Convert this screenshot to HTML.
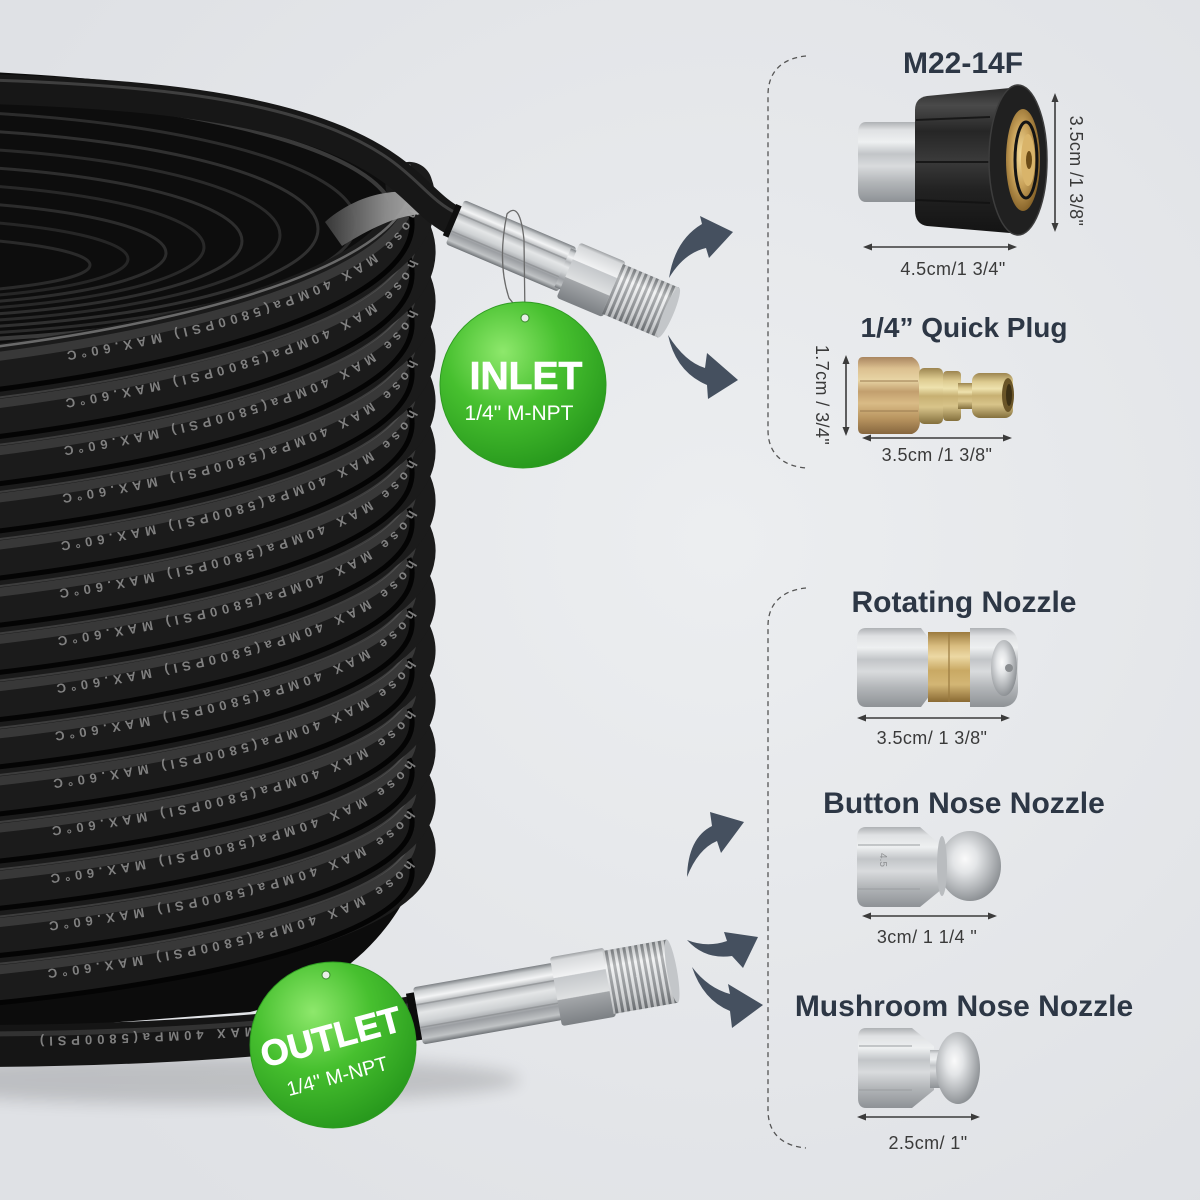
<!DOCTYPE html>
<html><head><meta charset="utf-8">
<style>
html,body{margin:0;padding:0;background:#e4e6e9;}
svg{display:block;}
.ttl{font-family:"Liberation Sans",Arial,sans-serif;font-weight:bold;font-size:30px;fill:#2d3745;}
.dim{font-family:"Liberation Sans",Arial,sans-serif;font-size:18px;fill:#3a3a3a;letter-spacing:0.4px;}
.ht{font-family:"Liberation Sans",Arial,sans-serif;font-weight:bold;font-size:13px;letter-spacing:4.9px;fill:#9a9a9a;opacity:.8;}
use{fill:none;}
.bb{stroke:#1b1b1b;stroke-width:47;stroke-linecap:round;}
.bs{stroke:#4c4c4c;stroke-width:9;opacity:.6;}
.bh{stroke:#707070;stroke-width:2;opacity:.4;}
.bg{stroke:#040404;stroke-width:5;}
</style></head>
<body>
<svg width="1200" height="1200" viewBox="0 0 1200 1200" xmlns="http://www.w3.org/2000/svg">
<defs>
 <radialGradient id="bgR" cx="0.6" cy="0.45" r="0.7">
  <stop offset="0" stop-color="#eceef0"/><stop offset="1" stop-color="#dfe1e5"/>
 </radialGradient>
 <radialGradient id="greenR" cx="0.38" cy="0.3" r="0.78">
  <stop offset="0" stop-color="#8ee86c"/><stop offset="0.45" stop-color="#47c02f"/><stop offset="1" stop-color="#23931a"/>
 </radialGradient>
 <linearGradient id="sleeveG" x1="0" y1="0" x2="0" y2="1">
  <stop offset="0" stop-color="#7d8185"/><stop offset="0.08" stop-color="#c9ccce"/><stop offset="0.2" stop-color="#f3f4f5"/>
  <stop offset="0.32" stop-color="#b2b5b8"/><stop offset="0.45" stop-color="#e4e6e7"/><stop offset="0.6" stop-color="#cfd2d4"/>
  <stop offset="0.75" stop-color="#9b9ea2"/><stop offset="0.9" stop-color="#c0c3c5"/><stop offset="1" stop-color="#6f7377"/>
 </linearGradient>
 <linearGradient id="hexG" x1="0" y1="0" x2="0" y2="1">
  <stop offset="0" stop-color="#9ea1a4"/><stop offset="0.06" stop-color="#d7d9db"/><stop offset="0.3" stop-color="#f1f2f3"/>
  <stop offset="0.31" stop-color="#c5c8cb"/><stop offset="0.62" stop-color="#dfe1e2"/><stop offset="0.63" stop-color="#a3a6a9"/>
  <stop offset="1" stop-color="#7c8084"/>
 </linearGradient>
 <linearGradient id="thrG" x1="0" y1="0" x2="0" y2="1">
  <stop offset="0" stop-color="#8f9396"/><stop offset="0.25" stop-color="#e8eaeb"/><stop offset="0.5" stop-color="#c9cccf"/>
  <stop offset="0.75" stop-color="#aeb1b4"/><stop offset="1" stop-color="#7a7e82"/>
 </linearGradient>
 <pattern id="thr" width="6" height="10" patternUnits="userSpaceOnUse">
  <rect x="0" y="0" width="3" height="10" fill="#ffffff" opacity="0.45"/>
  <rect x="3" y="0" width="3" height="10" fill="#4a4d50" opacity="0.35"/>
 </pattern>
 <linearGradient id="steelV" x1="0" y1="0" x2="0" y2="1">
  <stop offset="0" stop-color="#aeb1b4"/><stop offset="0.1" stop-color="#dfe1e3"/><stop offset="0.25" stop-color="#eef0f1"/>
  <stop offset="0.4" stop-color="#c2c5c8"/><stop offset="0.55" stop-color="#d9dbdd"/><stop offset="0.75" stop-color="#b3b6b9"/>
  <stop offset="1" stop-color="#8e9296"/>
 </linearGradient>
 <linearGradient id="brassV" x1="0" y1="0" x2="0" y2="1">
  <stop offset="0" stop-color="#a98560"/><stop offset="0.15" stop-color="#dcc090"/><stop offset="0.3" stop-color="#e8d5a5"/>
  <stop offset="0.45" stop-color="#c29f6e"/><stop offset="0.6" stop-color="#d9bb86"/><stop offset="0.8" stop-color="#b8945f"/>
  <stop offset="1" stop-color="#86663f"/>
 </linearGradient>
 <linearGradient id="zincV" x1="0" y1="0" x2="0" y2="1">
  <stop offset="0" stop-color="#9c8550"/><stop offset="0.2" stop-color="#ddcb90"/><stop offset="0.35" stop-color="#eee2ae"/>
  <stop offset="0.5" stop-color="#c7b072"/><stop offset="0.7" stop-color="#d8c48a"/><stop offset="1" stop-color="#84703d"/>
 </linearGradient>
 <linearGradient id="goldV" x1="0" y1="0" x2="0" y2="1">
  <stop offset="0" stop-color="#9b7a3e"/><stop offset="0.2" stop-color="#d9bd80"/><stop offset="0.35" stop-color="#ecd8a4"/>
  <stop offset="0.55" stop-color="#c9a964"/><stop offset="0.75" stop-color="#d3b675"/><stop offset="1" stop-color="#8a6a33"/>
 </linearGradient>
 <linearGradient id="blackV" x1="0" y1="0" x2="0" y2="1">
  <stop offset="0" stop-color="#2b2b2b"/><stop offset="0.12" stop-color="#4a4a4a"/><stop offset="0.3" stop-color="#262626"/>
  <stop offset="0.5" stop-color="#3a3a3a"/><stop offset="0.7" stop-color="#222222"/><stop offset="1" stop-color="#141414"/>
 </linearGradient>
 <radialGradient id="brassR" cx="0.45" cy="0.45" r="0.6">
  <stop offset="0" stop-color="#f3dc9c"/><stop offset="0.5" stop-color="#c9a25a"/><stop offset="1" stop-color="#7d5a22"/>
 </radialGradient>
 <radialGradient id="ballR" cx="0.42" cy="0.4" r="0.65">
  <stop offset="0" stop-color="#fafafa"/><stop offset="0.3" stop-color="#e3e5e7"/><stop offset="0.65" stop-color="#b5b8bb"/><stop offset="1" stop-color="#85898d"/>
 </radialGradient>
 <linearGradient id="rimL" x1="0" y1="0" x2="1" y2="0">
  <stop offset="0" stop-color="#3a3a3a"/><stop offset="0.55" stop-color="#8f8f8f"/><stop offset="1" stop-color="#b8b8b8"/>
 </linearGradient>
 <clipPath id="op"><ellipse cx="-120" cy="211" rx="552" ry="137"/></clipPath>
 <filter id="blur" x="-20%" y="-50%" width="140%" height="200%"><feGaussianBlur stdDeviation="8"/></filter>

 <path id="b0" d="M-10 368.5A812 190 0 0 0 409 185.4"/>
 <path id="b1" d="M-10 415.7A812 186.9 0 0 0 409 235.5"/>
 <path id="b2" d="M-10 462.9A812 183.8 0 0 0 409 285.7"/>
 <path id="b3" d="M-10 510.1A812 180.8 0 0 0 409 335.8"/>
 <path id="b4" d="M-10 557.2A812 177.7 0 0 0 409 385.9"/>
 <path id="b5" d="M-10 604.3A812 174.6 0 0 0 409 436.0"/>
 <path id="b6" d="M-10 651.5A812 171.5 0 0 0 409 486.2"/>
 <path id="b7" d="M-10 698.7A812 168.5 0 0 0 409 536.2"/>
 <path id="b8" d="M-10 745.9A812 165.4 0 0 0 409 586.4"/>
 <path id="b9" d="M-10 793.0A812 162.3 0 0 0 409 636.6"/>
 <path id="b10" d="M-10 840.1A812 159.2 0 0 0 409 686.6"/>
 <path id="b11" d="M-10 887.3A812 156.2 0 0 0 409 736.7"/>
 <path id="b12" d="M-10 934.5A812 153.1 0 0 0 409 786.9"/>
 <path id="b13" d="M-10 981.7A812 150.0 0 0 0 409 837.0"/>

 <path id="t0" d="M409 185.4A812 190 0 0 1 -10 368.5"/>
 <path id="t1" d="M409 235.5A812 186.9 0 0 1 -10 415.7"/>
 <path id="t2" d="M409 285.7A812 183.8 0 0 1 -10 462.9"/>
 <path id="t3" d="M409 335.8A812 180.8 0 0 1 -10 510.1"/>
 <path id="t4" d="M409 385.9A812 177.7 0 0 1 -10 557.2"/>
 <path id="t5" d="M409 436.0A812 174.6 0 0 1 -10 604.3"/>
 <path id="t6" d="M409 486.2A812 171.5 0 0 1 -10 651.5"/>
 <path id="t7" d="M409 536.2A812 168.5 0 0 1 -10 698.7"/>
 <path id="t8" d="M409 586.4A812 165.4 0 0 1 -10 745.9"/>
 <path id="t9" d="M409 636.6A812 162.3 0 0 1 -10 793.0"/>
 <path id="t10" d="M409 686.6A812 159.2 0 0 1 -10 840.1"/>
 <path id="t11" d="M409 736.7A812 156.2 0 0 1 -10 887.3"/>
 <path id="t12" d="M409 786.9A812 153.1 0 0 1 -10 934.5"/>
 <path id="t13" d="M409 837.0A812 150.0 0 0 1 -10 981.7"/>
 <path id="tb" d="M330 1030 C 220 1038 110 1044 -10 1046"/>
</defs>

<!-- background -->
<rect width="1200" height="1200" fill="url(#bgR)"/>
<ellipse cx="200" cy="1080" rx="320" ry="24" fill="#000" opacity="0.15" filter="url(#blur)"/>

<!-- coil base -->
<path d="M-10 72 C150 80 280 100 340 130 L420 185 L421 860 C400 930 340 990 250 1012 L-10 1032 Z" fill="#0c0c0c"/>

<!-- interior -->
<ellipse cx="-120" cy="211" rx="552" ry="137" fill="#0d0d0d"/>
<g clip-path="url(#op)" fill="none">
 <ellipse cx="-120" cy="217" rx="514" ry="125" stroke="#3a3a3a" stroke-width="4"/>
 <ellipse cx="-120" cy="223" rx="476" ry="113" stroke="#2c2c2c" stroke-width="3"/>
 <ellipse cx="-120" cy="229" rx="438" ry="101" stroke="#303030" stroke-width="3"/>
 <ellipse cx="-120" cy="235" rx="400" ry="89" stroke="#2a2a2a" stroke-width="3"/>
 <ellipse cx="-120" cy="241" rx="362" ry="77" stroke="#2e2e2e" stroke-width="3"/>
 <ellipse cx="-120" cy="247" rx="324" ry="65" stroke="#282828" stroke-width="3"/>
 <ellipse cx="-120" cy="253" rx="286" ry="53" stroke="#2c2c2c" stroke-width="3"/>
 <ellipse cx="-120" cy="259" rx="248" ry="41" stroke="#262626" stroke-width="3"/>
 <ellipse cx="-120" cy="265" rx="210" ry="29" stroke="#2a2a2a" stroke-width="3"/>
</g>

<!-- bands, bottom first -->
<use href="#b13" class="bb"/><use href="#b13" class="bs" transform="translate(0,-11)"/><use href="#b13" class="bh" transform="translate(0,-17)"/><use href="#b13" class="bg" transform="translate(0,22)"/>
<text class="ht" transform="translate(0,-6)"><textPath href="#t13" startOffset="30">hose MAX 40MPa(5800PSI) MAX.60°C</textPath></text>
<use href="#b12" class="bb"/><use href="#b12" class="bs" transform="translate(0,-11)"/><use href="#b12" class="bh" transform="translate(0,-17)"/><use href="#b12" class="bg" transform="translate(0,22)"/>
<text class="ht" transform="translate(0,-6)"><textPath href="#t12" startOffset="30">hose MAX 40MPa(5800PSI) MAX.60°C</textPath></text>
<use href="#b11" class="bb"/><use href="#b11" class="bs" transform="translate(0,-11)"/><use href="#b11" class="bh" transform="translate(0,-17)"/><use href="#b11" class="bg" transform="translate(0,22)"/>
<text class="ht" transform="translate(0,-6)"><textPath href="#t11" startOffset="30">hose MAX 40MPa(5800PSI) MAX.60°C</textPath></text>
<use href="#b10" class="bb"/><use href="#b10" class="bs" transform="translate(0,-11)"/><use href="#b10" class="bh" transform="translate(0,-17)"/><use href="#b10" class="bg" transform="translate(0,22)"/>
<text class="ht" transform="translate(0,-6)"><textPath href="#t10" startOffset="30">hose MAX 40MPa(5800PSI) MAX.60°C</textPath></text>
<use href="#b9" class="bb"/><use href="#b9" class="bs" transform="translate(0,-11)"/><use href="#b9" class="bh" transform="translate(0,-17)"/><use href="#b9" class="bg" transform="translate(0,22)"/>
<text class="ht" transform="translate(0,-6)"><textPath href="#t9" startOffset="30">hose MAX 40MPa(5800PSI) MAX.60°C</textPath></text>
<use href="#b8" class="bb"/><use href="#b8" class="bs" transform="translate(0,-11)"/><use href="#b8" class="bh" transform="translate(0,-17)"/><use href="#b8" class="bg" transform="translate(0,22)"/>
<text class="ht" transform="translate(0,-6)"><textPath href="#t8" startOffset="30">hose MAX 40MPa(5800PSI) MAX.60°C</textPath></text>
<use href="#b7" class="bb"/><use href="#b7" class="bs" transform="translate(0,-11)"/><use href="#b7" class="bh" transform="translate(0,-17)"/><use href="#b7" class="bg" transform="translate(0,22)"/>
<text class="ht" transform="translate(0,-6)"><textPath href="#t7" startOffset="30">hose MAX 40MPa(5800PSI) MAX.60°C</textPath></text>
<use href="#b6" class="bb"/><use href="#b6" class="bs" transform="translate(0,-11)"/><use href="#b6" class="bh" transform="translate(0,-17)"/><use href="#b6" class="bg" transform="translate(0,22)"/>
<text class="ht" transform="translate(0,-6)"><textPath href="#t6" startOffset="30">hose MAX 40MPa(5800PSI) MAX.60°C</textPath></text>
<use href="#b5" class="bb"/><use href="#b5" class="bs" transform="translate(0,-11)"/><use href="#b5" class="bh" transform="translate(0,-17)"/><use href="#b5" class="bg" transform="translate(0,22)"/>
<text class="ht" transform="translate(0,-6)"><textPath href="#t5" startOffset="30">hose MAX 40MPa(5800PSI) MAX.60°C</textPath></text>
<use href="#b4" class="bb"/><use href="#b4" class="bs" transform="translate(0,-11)"/><use href="#b4" class="bh" transform="translate(0,-17)"/><use href="#b4" class="bg" transform="translate(0,22)"/>
<text class="ht" transform="translate(0,-6)"><textPath href="#t4" startOffset="30">hose MAX 40MPa(5800PSI) MAX.60°C</textPath></text>
<use href="#b3" class="bb"/><use href="#b3" class="bs" transform="translate(0,-11)"/><use href="#b3" class="bh" transform="translate(0,-17)"/><use href="#b3" class="bg" transform="translate(0,22)"/>
<text class="ht" transform="translate(0,-6)"><textPath href="#t3" startOffset="30">hose MAX 40MPa(5800PSI) MAX.60°C</textPath></text>
<use href="#b2" class="bb"/><use href="#b2" class="bs" transform="translate(0,-11)"/><use href="#b2" class="bh" transform="translate(0,-17)"/><use href="#b2" class="bg" transform="translate(0,22)"/>
<text class="ht" transform="translate(0,-6)"><textPath href="#t2" startOffset="30">hose MAX 40MPa(5800PSI) MAX.60°C</textPath></text>
<use href="#b1" class="bb"/><use href="#b1" class="bs" transform="translate(0,-11)"/><use href="#b1" class="bh" transform="translate(0,-17)"/><use href="#b1" class="bg" transform="translate(0,22)"/>
<text class="ht" transform="translate(0,-6)"><textPath href="#t1" startOffset="30">hose MAX 40MPa(5800PSI) MAX.60°C</textPath></text>
<use href="#b0" class="bb"/><use href="#b0" class="bs" transform="translate(0,-11)"/><use href="#b0" class="bg" transform="translate(0,22)"/>
<use href="#b0" transform="translate(0,-21)" stroke="#8a8a8a" stroke-width="2.5" opacity="0.7"/>
<text class="ht" transform="translate(0,-6)"><textPath href="#t0" startOffset="30">hose MAX 40MPa(5800PSI) MAX.60°C</textPath></text>

<!-- rim light inner wall -->
<path d="M325 222 C352 198 392 184 432 196 L434 214 C404 212 374 226 342 246 Z" fill="url(#rimL)" opacity="0.95"/>

<!-- inlet hose (back top turn) -->
<path d="M-10 89 C150 94 260 108 337 140 S420 205 458 223" fill="none" stroke="#171717" stroke-width="30"/>
<path d="M-10 80 C150 85 260 99 337 131 S420 196 458 214" fill="none" stroke="#5a5a5a" stroke-width="3" opacity="0.6"/>

<!-- inlet fitting -->
<g transform="translate(455,222) rotate(23)">
 <rect x="-6" y="-17" width="10" height="34" fill="#0f0f0f"/>
 <rect x="0" y="-24" width="122" height="48" rx="3" fill="url(#sleeveG)"/>
 <rect x="0" y="-10" width="122" height="1.5" fill="#8a8d90" opacity="0.7"/>
 <rect x="0" y="9" width="122" height="1.5" fill="#8a8d90" opacity="0.7"/>
 <rect x="117" y="-21" width="8" height="42" fill="url(#sleeveG)"/>
 <rect x="123" y="-30" width="50" height="60" rx="3" fill="url(#hexG)"/>
 <rect x="171" y="-27" width="61" height="54" fill="url(#thrG)"/>
 <rect x="171" y="-27" width="61" height="54" fill="url(#thr)"/>
 <ellipse cx="232" cy="0" rx="5" ry="27" fill="#c3c6c9"/>
</g>
<!-- wire loop -->
<path d="M525 318 L509 298 Q497 262 507 214 Q520 200 524 240 L525 318" fill="none" stroke="#6a6a6a" stroke-width="1.3"/>

<!-- INLET tag -->
<circle cx="523" cy="385" r="83" fill="url(#greenR)" stroke="#2f9c22" stroke-width="1"/>
<circle cx="525" cy="318" r="4" fill="#e8eee8" stroke="#3a8a2c" stroke-width="1"/>
<text x="526" y="389" text-anchor="middle" font-family="Liberation Sans, Arial, sans-serif" font-weight="bold" font-size="39" fill="#fff" stroke="#fff" stroke-width="0.8">INLET</text>
<text x="519" y="420" text-anchor="middle" font-family="Liberation Sans, Arial, sans-serif" font-size="21" fill="#fff">1/4" M-NPT</text>

<!-- bottom outgoing hose -->
<path d="M-10 1046 C150 1045 300 1035 420 1016" fill="none" stroke="#151515" stroke-width="42"/>
<path d="M-10 1034 C150 1033 300 1023 420 1004" fill="none" stroke="#4a4a4a" stroke-width="5" opacity="0.55"/>
<text class="ht" transform="translate(0,-8)"><textPath href="#tb" startOffset="10">HOSE MAX 40MPa(5800PSI)</textPath></text>

<!-- outlet fitting -->
<g transform="translate(418,1016) rotate(-10)">
 <rect x="-8" y="-24" width="12" height="48" fill="#0c0c0c"/>
 <rect x="0" y="-29" width="142" height="58" rx="3" fill="url(#sleeveG)"/>
 <rect x="0" y="-12" width="142" height="1.5" fill="#8a8d90" opacity="0.7"/>
 <rect x="0" y="11" width="142" height="1.5" fill="#8a8d90" opacity="0.7"/>
 <rect x="140" y="-35" width="55" height="70" rx="3" fill="url(#hexG)"/>
 <rect x="193" y="-32" width="65" height="64" fill="url(#thrG)"/>
 <rect x="193" y="-32" width="65" height="64" fill="url(#thr)"/>
 <ellipse cx="258" cy="0" rx="5" ry="32" fill="#c3c6c9"/>
</g>

<!-- OUTLET tag -->
<circle cx="333" cy="1045" r="83" fill="url(#greenR)" stroke="#2f9c22" stroke-width="1"/>
<circle cx="326" cy="975" r="4" fill="#e8eee8" stroke="#3a8a2c" stroke-width="1"/>
<g transform="translate(333,1045) rotate(-15)">
 <text x="0" y="4" text-anchor="middle" font-family="Liberation Sans, Arial, sans-serif" font-weight="bold" font-size="36" fill="#fff" stroke="#fff" stroke-width="0.8">OUTLET</text>
 <text x="-4" y="38" text-anchor="middle" font-family="Liberation Sans, Arial, sans-serif" font-size="20" fill="#fff">1/4" M-NPT</text>
</g>

<!-- curved arrows -->
<g fill="#45505f">
 <path d="M669 278 Q675 240 702 224 L700 216 L733 232 L709 258 L706 248 Q684 253 669 278 Z"/>
 <path d="M668 335 Q676 372 707 385 L708 399 L738 380 L707 353 L705 368 Q685 362 668 335 Z"/>
 <path d="M687 877 Q688 838 712 826 L710 812 L744 822 L721 853 L717 841 Q698 849 687 877 Z"/>
 <path d="M687 940 Q705 960 732 956 L743 968 L758 937 L724 932 L727 941 Q707 948 687 940 Z"/>
 <path d="M692 967 Q703 1000 730 1011 L732 1028 L763 1005 L728 984 L730 994 Q708 988 692 967 Z"/>
</g>

<!-- dashed brackets -->
<g fill="none" stroke="#555" stroke-width="1.3" stroke-dasharray="5 4">
 <path d="M806 56 C784 58 768 70 768 95 L768 430 C768 455 784 466 806 468"/>
 <path d="M806 588 C784 590 768 602 768 626 L768 1110 C768 1135 784 1146 806 1148"/>
</g>

<!-- ===== M22-14F ===== -->
<text class="ttl" x="963" y="73" text-anchor="middle">M22-14F</text>
<path d="M866 122 L920 122 L920 202 L866 202 Q858 202 858 190 L858 134 Q858 122 866 122 Z" fill="url(#steelV)"/>
<path d="M927 96 L1010 88 L1010 233 L927 226 Q915 224 915 210 L915 110 Q915 98 927 96 Z" fill="url(#blackV)"/>
<g stroke="#111" stroke-width="2" opacity="0.8">
 <line x1="916" y1="120" x2="990" y2="117"/>
 <line x1="916" y1="162" x2="990" y2="162"/>
 <line x1="916" y1="200" x2="990" y2="203"/>
</g>
<ellipse cx="1018" cy="160" rx="29" ry="75" fill="#202020" stroke="#3d3d3d" stroke-width="1.5"/>
<ellipse cx="1023" cy="160" rx="17" ry="51" fill="url(#brassR)"/>
<ellipse cx="1026" cy="160" rx="11" ry="38" fill="none" stroke="#141414" stroke-width="3"/>
<ellipse cx="1028" cy="160" rx="7" ry="26" fill="#d9b46a"/>
<ellipse cx="1029" cy="160" rx="3" ry="9" fill="#6b4c17"/>
<!-- dims -->
<g stroke="#3b3b3b" stroke-width="1.6" fill="#3b3b3b">
 <line x1="1055" y1="100" x2="1055" y2="225"/>
 <polygon points="1055,93 1051.5,102 1058.5,102" stroke="none"/>
 <polygon points="1055,232 1051.5,223 1058.5,223" stroke="none"/>
 <line x1="870" y1="247" x2="1010" y2="247"/>
 <polygon points="863,247 872,243.5 872,250.5" stroke="none"/>
 <polygon points="1017,247 1008,243.5 1008,250.5" stroke="none"/>
</g>
<text class="dim" transform="translate(1070,171) rotate(90)" text-anchor="middle">3.5cm /1 3/8"</text>
<text class="dim" x="953" y="275" text-anchor="middle">4.5cm/1 3/4"</text>

<!-- ===== Quick plug ===== -->
<text class="ttl" x="964" y="337" text-anchor="middle" style="font-size:28px">1/4” Quick Plug</text>
<path d="M863 357 L912 357 Q920 361 920 371 L920 421 Q920 431 912 434 L863 434 Q858 434 858 428 L858 363 Q858 357 863 357 Z" fill="url(#brassV)"/>
<line x1="860" y1="381" x2="918" y2="381" stroke="#9a7a50" stroke-width="1"/>
<line x1="860" y1="411" x2="918" y2="411" stroke="#9a7a50" stroke-width="1"/>
<rect x="919" y="368" width="24" height="56" rx="5" fill="url(#zincV)"/>
<rect x="943" y="371" width="18" height="50" rx="4" fill="url(#zincV)"/>
<rect x="958" y="383" width="18" height="26" fill="url(#zincV)"/>
<rect x="972" y="373" width="41" height="45" rx="8" fill="url(#zincV)"/>
<ellipse cx="1008" cy="395" rx="6" ry="17" fill="#6a5528"/>
<ellipse cx="1009" cy="395" rx="3" ry="11" fill="#3c3015"/>
<g stroke="#3b3b3b" stroke-width="1.6" fill="#3b3b3b">
 <line x1="846" y1="362" x2="846" y2="429"/>
 <polygon points="846,355 842.5,364 849.5,364" stroke="none"/>
 <polygon points="846,436 842.5,427 849.5,427" stroke="none"/>
 <line x1="869" y1="438" x2="1005" y2="438"/>
 <polygon points="862,438 871,434.5 871,441.5" stroke="none"/>
 <polygon points="1012,438 1003,434.5 1003,441.5" stroke="none"/>
</g>
<text class="dim" transform="translate(816,395) rotate(90)" text-anchor="middle">1.7cm / 3/4"</text>
<text class="dim" x="937" y="461" text-anchor="middle">3.5cm /1 3/8"</text>

<!-- ===== Rotating Nozzle ===== -->
<text class="ttl" x="964" y="612" text-anchor="middle">Rotating Nozzle</text>
<path d="M866 628 L921 628 L930 640 L930 695 L921 707 L866 707 Q857 707 857 696 L857 639 Q857 628 866 628 Z" fill="url(#steelV)"/>
<rect x="928" y="632" width="44" height="70" fill="url(#goldV)"/>
<line x1="949" y1="632" x2="949" y2="702" stroke="#9a7a40" stroke-width="1.2"/>
<path d="M970 628 L1004 628 Q1018 630 1018 646 L1018 689 Q1018 705 1004 707 L970 707 Z" fill="url(#steelV)"/>
<ellipse cx="1004" cy="668" rx="13" ry="28" fill="url(#ballR)"/>
<circle cx="1009" cy="668" r="4" fill="#8a8d90"/>
<g stroke="#3b3b3b" stroke-width="1.6" fill="#3b3b3b">
 <line x1="864" y1="718" x2="1003" y2="718"/>
 <polygon points="857,718 866,714.5 866,721.5" stroke="none"/>
 <polygon points="1010,718 1001,714.5 1001,721.5" stroke="none"/>
</g>
<text class="dim" x="932" y="744" text-anchor="middle">3.5cm/ 1 3/8"</text>

<!-- ===== Button Nose Nozzle ===== -->
<text class="ttl" x="964" y="813" text-anchor="middle">Button Nose Nozzle</text>
<path d="M866 827 L920 827 L942 846 L942 889 L920 907 L866 907 Q857 907 857 896 L857 838 Q857 827 866 827 Z" fill="url(#steelV)"/>
<line x1="858" y1="845" x2="920" y2="845" stroke="#9a9da0" stroke-width="1"/>
<line x1="858" y1="889" x2="920" y2="889" stroke="#9a9da0" stroke-width="1"/>
<ellipse cx="970" cy="866" rx="31" ry="35" fill="url(#ballR)"/>
<ellipse cx="942" cy="866" rx="5" ry="30" fill="#b9bcbf"/>
<text transform="translate(880,860) rotate(90)" text-anchor="middle" font-family="Liberation Sans, Arial, sans-serif" font-size="10" fill="#8d8f91">4.5</text>
<g stroke="#3b3b3b" stroke-width="1.6" fill="#3b3b3b">
 <line x1="869" y1="916" x2="990" y2="916"/>
 <polygon points="862,916 871,912.5 871,919.5" stroke="none"/>
 <polygon points="997,916 988,912.5 988,919.5" stroke="none"/>
</g>
<text class="dim" x="927" y="943" text-anchor="middle">3cm/ 1 1/4 "</text>

<!-- ===== Mushroom Nose Nozzle ===== -->
<text class="ttl" x="964" y="1016" text-anchor="middle">Mushroom Nose Nozzle</text>
<path d="M866 1028 L912 1028 L934 1046 L934 1090 L912 1108 L866 1108 Q858 1108 858 1098 L858 1038 Q858 1028 866 1028 Z" fill="url(#steelV)"/>
<line x1="859" y1="1046" x2="912" y2="1046" stroke="#9a9da0" stroke-width="1"/>
<line x1="859" y1="1090" x2="912" y2="1090" stroke="#9a9da0" stroke-width="1"/>
<rect x="930" y="1050" width="12" height="38" fill="url(#steelV)"/>
<ellipse cx="958" cy="1068" rx="22" ry="36" fill="url(#ballR)"/>
<g stroke="#3b3b3b" stroke-width="1.6" fill="#3b3b3b">
 <line x1="864" y1="1117" x2="973" y2="1117"/>
 <polygon points="857,1117 866,1113.5 866,1120.5" stroke="none"/>
 <polygon points="980,1117 971,1113.5 971,1120.5" stroke="none"/>
</g>
<text class="dim" x="928" y="1149" text-anchor="middle">2.5cm/ 1"</text>
</svg>
</body></html>
